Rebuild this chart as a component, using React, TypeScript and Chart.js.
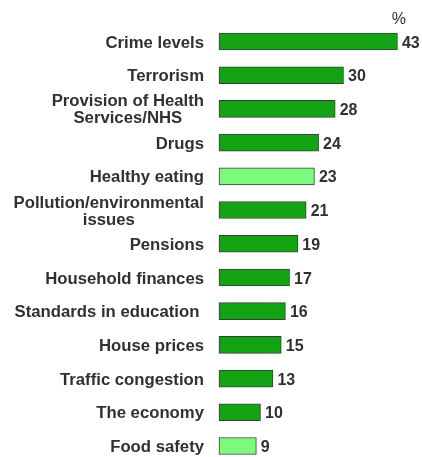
import { useEffect, useRef } from "react";
import { Chart, registerables } from "chart.js";

Chart.register(...registerables);

const categories = [
  "Crime levels",
  "Terrorism",
  "Provision of Health\nServices/NHS",
  "Drugs",
  "Healthy eating",
  "Pollution/environmental\nissues",
  "Pensions",
  "Household finances",
  "Standards in education ",
  "House prices",
  "Traffic congestion",
  "The economy",
  "Food safety",
];
const values = [43, 30, 28, 24, 23, 21, 19, 17, 16, 15, 13, 10, 9];
const lightCategories = ["Healthy eating", "Food safety"];
const unitLabel = "%";

const DARK_GREEN = "#14a314";
const LIGHT_GREEN = "#7cfa7c";
const BORDER = "#3c3c3c";
const TEXT = "#303030";
const FONT_FAMILY = "'Liberation Sans', Arial, Helvetica, sans-serif";
const STRETCH = 1.045;

function drawStretched(ctx: CanvasRenderingContext2D, text: string, x: number, y: number, align: CanvasTextAlign) {
  ctx.save();
  ctx.translate(x, y);
  ctx.scale(STRETCH, 1);
  ctx.textAlign = align;
  ctx.fillText(text, 0, 0);
  ctx.restore();
}

const labelPlugin = {
  id: "customLabels",
  afterDatasetsDraw(chart: any) {
    const ctx = chart.ctx as CanvasRenderingContext2D;
    const yScale = chart.scales.y;
    const area = chart.chartArea;
    const meta = chart.getDatasetMeta(0);
    const cap = 11.5;
    const lh = 17;
    ctx.save();
    ctx.fillStyle = TEXT;
    ctx.textBaseline = "alphabetic";
    ctx.font = "bold 16px " + FONT_FAMILY;
    const labelRight = area.left - 15;
    categories.forEach((c, i) => {
      const cy = yScale.getPixelForValue(i);
      const lines = c.split("\n");
      const first = cy - ((lines.length - 1) * lh) / 2 + cap / 2 + 0.3;
      if (lines.length === 1) {
        drawStretched(ctx, lines[0], labelRight, first, "right");
      } else {
        const maxW = Math.max(...lines.map((l) => ctx.measureText(l).width)) * STRETCH;
        const cx = labelRight - maxW / 2;
        lines.forEach((l, k) => drawStretched(ctx, l, cx, first + k * lh, "center"));
      }
      const bar = meta.data[i];
      ctx.textAlign = "left";
      ctx.fillText(String(values[i]), bar.x + 4.5, cy + cap / 2 + 0.3);
    });
    ctx.font = "16px " + FONT_FAMILY;
    ctx.textAlign = "center";
    ctx.fillText(unitLabel, area.right - 7, 23.5);
    ctx.restore();
  },
};

export default function App() {
  const ref = useRef<HTMLCanvasElement | null>(null);
  useEffect(() => {
    if (!ref.current) return;
    const chart = new Chart(ref.current, {
      type: "bar",
      data: {
        labels: categories,
        datasets: [
          {
            data: values,
            backgroundColor: categories.map((c) =>
              lightCategories.includes(c) ? LIGHT_GREEN : DARK_GREEN
            ),
            borderColor: BORDER,
            borderWidth: 1,
            borderSkipped: false,
            barThickness: 17,
            clip: false as any,
          },
        ],
      },
      options: {
        indexAxis: "y",
        responsive: false,
        animation: false,
        devicePixelRatio: 1,
        layout: { padding: { left: 219, right: 16.25, top: 41.5, bottom: 11 } },
        plugins: { legend: { display: false }, tooltip: { enabled: false } },
        scales: {
          x: { display: false, min: 0, max: 45 },
          y: { display: false, offset: false },
        },
      },
      plugins: [labelPlugin],
    });
    return () => chart.destroy();
  }, []);
  return (
    <div style={{ position: "absolute", left: 0, top: 0, width: 422, height: 457, background: "#fff" }}>
      <canvas ref={ref} width={422} height={457} />
    </div>
  );
}
